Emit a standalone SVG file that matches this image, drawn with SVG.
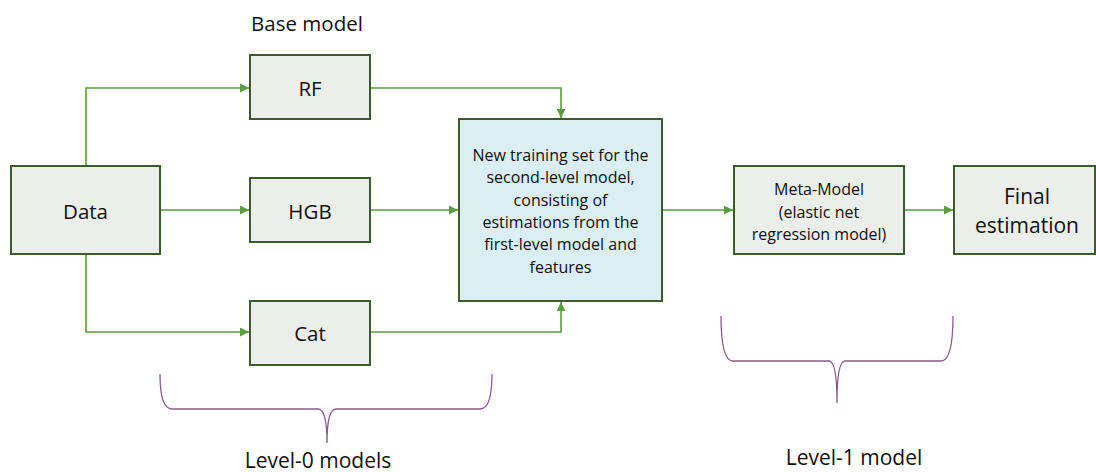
<svg xmlns="http://www.w3.org/2000/svg" width="1096" height="472" viewBox="0 0 1096 472">
  <style>
    .box { fill: #ebeeea; stroke: #3d5a2c; stroke-width: 2; }
    .hub { fill: #daeef3; stroke: #3d5a2c; stroke-width: 2; }
    .conn { fill: none; stroke: #5a9e3d; stroke-width: 1.6; }
    .brace { fill: none; stroke: #8a5a8c; stroke-width: 1.3; }
    text { font-family: "Open Sans", "Liberation Sans", sans-serif; fill: #111; text-anchor: middle; dominant-baseline: central; }
    .big { font-size: 20.5px; }
    .mid { font-size: 16px; }
    .cap { font-size: 21px; }
  </style>
  <defs>
    <marker id="arrow" viewBox="0 0 10 10" refX="10" refY="5" markerWidth="9" markerHeight="9" markerUnits="userSpaceOnUse" orient="auto">
      <path d="M0,0 L10,5 L0,10 z" fill="#5a9e3d"/>
    </marker>
  </defs>

  <text class="big" x="307" y="23">Base model</text>

  <g id="connectors">
    <path class="conn" d="M86,166 V88 H249" marker-end="url(#arrow)"/>
    <path class="conn" d="M160,210 H249" marker-end="url(#arrow)"/>
    <path class="conn" d="M86,254 V332 H249" marker-end="url(#arrow)"/>
    <path class="conn" d="M370,88 H561 V118" marker-end="url(#arrow)"/>
    <path class="conn" d="M370,210 H458" marker-end="url(#arrow)"/>
    <path class="conn" d="M370,332 H561 V302" marker-end="url(#arrow)"/>
    <path class="conn" d="M662,210 H733" marker-end="url(#arrow)"/>
    <path class="conn" d="M904,210 H953" marker-end="url(#arrow)"/>
  </g>

  <g id="data">
    <rect class="box" x="11" y="166" width="149" height="88"/>
    <text class="big" x="85.5" y="211">Data</text>
  </g>
  <g id="rf">
    <rect class="box" x="250" y="55" width="120" height="64"/>
    <text class="big" x="310" y="88">RF</text>
  </g>
  <g id="hgb">
    <rect class="box" x="250" y="178" width="120" height="64"/>
    <text class="big" x="310" y="211">HGB</text>
  </g>
  <g id="cat">
    <rect class="box" x="250" y="301" width="120" height="64"/>
    <text class="big" x="310" y="333">Cat</text>
  </g>
  <g id="training-set">
    <rect class="hub" x="459" y="119" width="203" height="182"/>
    <text class="mid" x="560.5" y="155">New training set for the</text>
    <text class="mid" x="560.5" y="177.3">second-level model,</text>
    <text class="mid" x="560.5" y="199.6">consisting of</text>
    <text class="mid" x="560.5" y="221.9">estimations from the</text>
    <text class="mid" x="560.5" y="244.2">first-level model and</text>
    <text class="mid" x="560.5" y="266.5">features</text>
  </g>
  <g id="meta-model">
    <rect class="box" x="734" y="166" width="170" height="88"/>
    <text class="mid" x="819" y="189">Meta-Model</text>
    <text class="mid" x="819" y="211.5">(elastic net</text>
    <text class="mid" x="819" y="233.5">regression model)</text>
  </g>
  <g id="final">
    <rect class="box" x="954" y="166" width="141" height="88"/>
    <text class="cap" x="1027" y="196">Final</text>
    <text class="cap" x="1027" y="225">estimation</text>
  </g>

  <g id="level-0">
    <path class="brace" d="M160,374 Q160,409 172,409 H318 Q327,409 327,443 Q327,409 336,409 H480 Q492,409 492,374"/>
    <text class="cap" x="318" y="460">Level-0 models</text>
  </g>
  <g id="level-1">
    <path class="brace" d="M721,316 Q721,361 733,361 H829 Q837,361 837,403 Q837,361 845,361 H941 Q953,361 953,316"/>
    <text class="cap" x="854" y="457">Level-1 model</text>
  </g>
</svg>
